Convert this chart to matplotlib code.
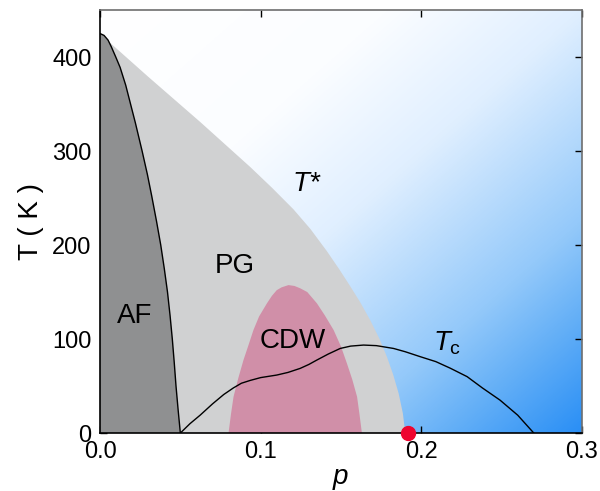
import numpy as np
import matplotlib
matplotlib.use("Agg")
import matplotlib.pyplot as plt
from matplotlib.colors import LinearSegmentedColormap

plt.rcParams["font.family"] = ["Liberation Sans", "DejaVu Sans"]
plt.rcParams["mathtext.fontset"] = "custom"
plt.rcParams["mathtext.rm"] = "Liberation Sans"
plt.rcParams["mathtext.it"] = "Liberation Sans:italic"

# AF boundary (Neel temperature)
af_p = [0.0, 0.0025, 0.005, 0.007, 0.0098, 0.0125, 0.016, 0.019, 0.022, 0.0262,
        0.0295, 0.0322, 0.0352, 0.0378, 0.0400, 0.0420, 0.0436, 0.0450, 0.0462, 0.0473,
        0.0486, 0.050]
af_T = [425, 423, 418, 411, 400, 389, 370, 350, 330, 300,
        275, 252, 225, 200, 175, 150, 125, 100, 75, 50,
        25, 0]

# pseudogap line T*
pg_p = [0.0, 0.0083, 0.030, 0.0623, 0.0935, 0.107, 0.1204, 0.131, 0.1412, 0.149,
        0.1558, 0.162, 0.1682, 0.174, 0.1786, 0.1825, 0.1859, 0.1885, 0.190]
pg_T = [425, 412, 379, 331, 283, 261, 238, 217, 193.5, 174,
        156, 139, 120, 100, 81, 62, 42, 21, 0]

# CDW dome
cdw_p = [0.080, 0.0815, 0.0831, 0.086, 0.0893, 0.0925, 0.0955, 0.099, 0.1039, 0.107,
         0.110, 0.113, 0.1173, 0.121, 0.1246, 0.129, 0.135, 0.140, 0.1454, 0.150,
         0.1537, 0.157, 0.160, 0.1615, 0.163]
cdw_T = [0, 20, 38.6, 58, 77.7, 94, 109.6, 124, 138, 146,
         152, 155, 157.4, 156.5, 154, 150, 138, 125, 109.6, 92,
         74, 57, 38.6, 20, 0]

# superconducting Tc
tc_p = [0.050, 0.056, 0.0623, 0.070, 0.077, 0.083, 0.088, 0.0935, 0.100, 0.110,
        0.117, 0.1246, 0.130, 0.135, 0.142, 0.1495, 0.156, 0.164, 0.172, 0.1827,
        0.190, 0.1994, 0.209, 0.218, 0.2285, 0.238, 0.249, 0.260, 0.270]
tc_T = [0, 10, 19, 31, 41, 48, 53, 56, 59, 61.7,
        64.5, 68.8, 73, 77.7, 84, 90, 92.5, 93.6, 93, 90,
        86.5, 81.2, 76, 69, 60, 48, 35, 19, 0]

# critical point
qcp_p = 0.192

fig = plt.figure(figsize=(6.0, 4.91), dpi=100)
ax = fig.add_axes([0.1667, 0.118, 0.8033, 0.8616])

# diagonal white -> blue background (top-left white, bottom-right blue)
cmap = LinearSegmentedColormap.from_list(
    "bg", [(0.0, "#ffffff"), (0.3, "#fbfdff"), (0.5, "#e0efff"),
           (0.75, "#94c9fa"), (0.85, "#69b2f7"), (1.0, "#2a8ff5")])
gx, gy = np.meshgrid(np.linspace(0, 1, 300), np.linspace(0, 1, 300))
grad = (gx + gy) / 2
ax.imshow(grad, extent=[0, 0.3, 0, 450], origin="upper", aspect="auto",
          cmap=cmap, vmin=0, vmax=1, zorder=0, interpolation="bilinear")

ax.fill(pg_p + [0.0], pg_T + [0], color="#d0d1d2", lw=0, zorder=1)
ax.fill(af_p + [0.0], af_T + [0], color="#8f9091", lw=0, zorder=2)
ax.plot(af_p, af_T, color="black", lw=1.0, zorder=4)
ax.fill(cdw_p, cdw_T, color="#d08fa8", lw=0, zorder=3)
ax.plot(tc_p, tc_T, color="black", lw=1.0, zorder=4)
ax.plot([qcp_p], [0], "o", color="#ee0530", markersize=10, clip_on=False, zorder=6)

ax.text(0.1194, 257, "$T$*", fontsize=20, style="italic")
ax.text(0.0717, 170, "PG", fontsize=20)
ax.text(0.0104, 117, "AF", fontsize=20)
ax.text(0.0993, 90, "CDW", fontsize=20)
ax.text(0.2075, 88, r"$T_{\mathrm{c}}$", fontsize=20)

ax.set_xlim(0, 0.3)
ax.set_ylim(0, 450)
ax.set_xticks([0.0, 0.1, 0.2, 0.3])
ax.set_xticklabels(["0.0", "0.1", "0.2", "0.3"])
ax.set_yticks([0, 100, 200, 300, 400])
ax.tick_params(direction="in", length=5, width=1, top=True, right=True,
               labelsize=17, pad=6, zorder=5)
ax.set_xlabel("$p$", fontsize=20, labelpad=2)
ax.set_ylabel("T ( K )", fontsize=20, labelpad=6)

for side in ["left", "bottom"]:
    ax.spines[side].set_color("black")
    ax.spines[side].set_linewidth(1.2)
for side in ["top", "right"]:
    ax.spines[side].set_color("#6e6e6e")
    ax.spines[side].set_linewidth(1.2)
for s in ax.spines.values():
    s.set_zorder(5)

fig.savefig("out.png", dpi=100)
